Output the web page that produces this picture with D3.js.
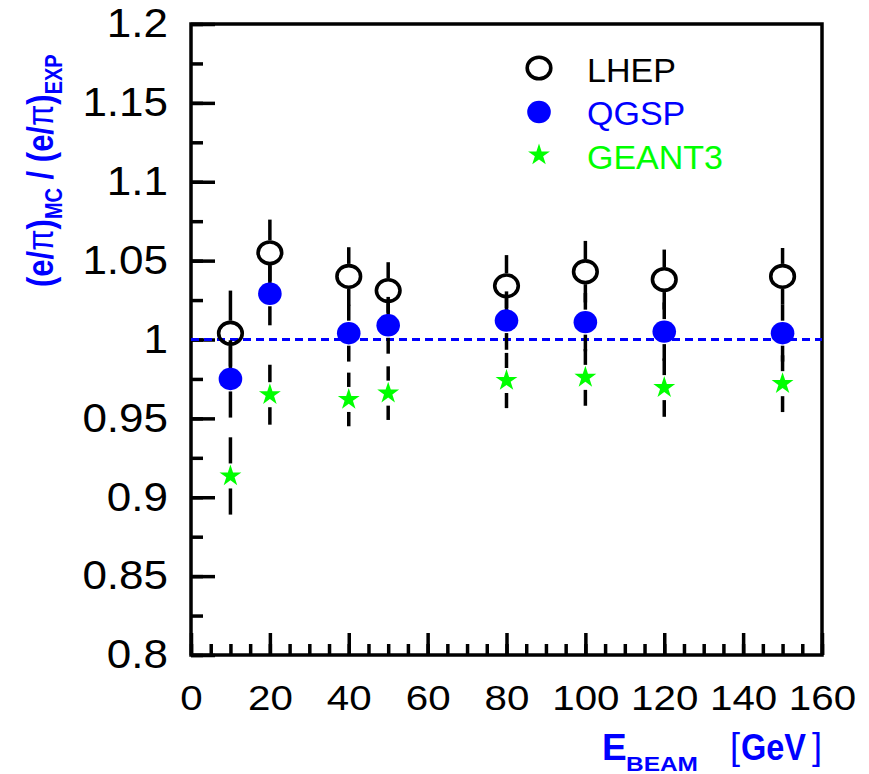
<!DOCTYPE html>
<html>
<head>
<meta charset="utf-8">
<script src="https://cdn.jsdelivr.net/npm/d3@7"></script>
<style>
  html, body { margin: 0; padding: 0; background: #fff; }
  svg { display: block; font-family: "Liberation Sans", Arial, Helvetica, sans-serif; }
</style>
</head>
<body>
<svg id="chart" width="869" height="774"></svg>
<script>
// ---- data ----
const energies = [10, 20, 40, 50, 80, 100, 120, 150];
const lhepValues  = [1.004, 1.055, 1.040, 1.031, 1.034, 1.043, 1.038, 1.040];
const lhepErrors  = [0.027, 0.021, 0.0185, 0.018, 0.0195, 0.0195, 0.019, 0.018];
const qgspValues  = [0.975, 1.029, 1.004, 1.009, 1.012, 1.011, 1.005, 1.004];
const qgspErrors  = [0.0245, 0.020, 0.018, 0.018, 0.0185, 0.0185, 0.0185, 0.018];
const geant3Values = [0.9135, 0.965, 0.962, 0.966, 0.974, 0.976, 0.9695, 0.972];
const geant3Errors = [0.0245, 0.019, 0.017, 0.017, 0.0175, 0.018, 0.0185, 0.018];
const seriesNames = ["LHEP", "QGSP", "GEANT3"];
const xTickLabels = ["0", "20", "40", "60", "80", "100", "120", "140", "160"];
const yTickLabels = ["0.8", "0.85", "0.9", "0.95", "1", "1.05", "1.1", "1.15", "1.2"];
const referenceLine = 1;

// ---- layout ----
const svg = d3.select("#chart");
const plotLeft = 191, plotRight = 822, plotTop = 24, plotBottom = 655;
const x = d3.scaleLinear().domain([0, 160]).range([plotLeft, plotRight]);
const y = d3.scaleLinear().domain([0.8, 1.2]).range([plotBottom, plotTop]);
const BLUE = "#0000ff", GREEN = "#00ff00";
const AXW = 3.5;

// minor x ticks
const gxMinor = svg.append("g").attr("transform", `translate(0,${plotBottom})`)
  .call(d3.axisBottom(x).tickValues(d3.range(0, 161, 5)).tickSize(-11).tickSizeOuter(0).tickFormat(""));
// major x ticks
const gx = svg.append("g").attr("transform", `translate(0,${plotBottom})`)
  .call(d3.axisBottom(x).tickValues(xTickLabels.map(Number)).tickSize(-22).tickSizeOuter(0).tickPadding(29));
// minor y ticks
const gyMinor = svg.append("g").attr("transform", `translate(${plotLeft},0)`)
  .call(d3.axisLeft(y).tickValues(d3.range(0, 17).map(i => 0.8 + i * 0.025)).tickSize(-12).tickSizeOuter(0).tickFormat(""));
// major y ticks
const gy = svg.append("g").attr("transform", `translate(${plotLeft},0)`)
  .call(d3.axisLeft(y).tickValues(yTickLabels.map(Number)).tickSize(-24).tickSizeOuter(0)
    .tickFormat((d, i) => yTickLabels[i]));

[gxMinor, gx, gyMinor, gy].forEach(g => {
  g.select(".domain").remove();
  g.selectAll(".tick line").attr("stroke", "#000").attr("stroke-width", AXW);
});
gx.selectAll(".tick text")
  .attr("font-size", 36).attr("fill", "#000")
  .attr("font-family", "Liberation Sans, Arial, sans-serif")
  .attr("transform", function() { const yy = d3.select(this).attr("y"); return `translate(0,${yy}) scale(1.12,1)`; })
  .attr("y", 0);
gy.selectAll(".tick text")
  .attr("font-size", 40).attr("fill", "#000")
  .attr("font-family", "Liberation Sans, Arial, sans-serif")
  .attr("x", 0)
  .attr("transform", "translate(-23,0) scale(1.1,1)");

// frame
svg.append("rect")
  .attr("x", plotLeft).attr("y", plotTop)
  .attr("width", plotRight - plotLeft).attr("height", plotBottom - plotTop)
  .attr("fill", "none").attr("stroke", "#000").attr("stroke-width", AXW);

// reference line
svg.append("line")
  .attr("x1", plotLeft).attr("x2", plotRight)
  .attr("y1", y(referenceLine)).attr("y2", y(referenceLine))
  .attr("stroke", BLUE).attr("stroke-width", 3.2).attr("stroke-dasharray", "8,5");

// series
const series = [
  { name: seriesNames[0], values: lhepValues, errors: lhepErrors, kind: "open", r: 11.5 },
  { name: seriesNames[1], values: qgspValues, errors: qgspErrors, kind: "dot", r: 11.5 },
  { name: seriesNames[2], values: geant3Values, errors: geant3Errors, kind: "star", r: 11.5 }
];
const starPath = d3.symbol(d3.symbolStar, 11.5 * 11.5 / 0.8908130915292852)();

function drawMarker(g, kind, cx, cy) {
  if (kind === "open") {
    g.append("ellipse").attr("cx", cx).attr("cy", cy).attr("rx", 11.8).attr("ry", 10.8)
      .attr("fill", "none").attr("stroke", "#000").attr("stroke-width", 3.6);
  } else if (kind === "dot") {
    g.append("ellipse").attr("cx", cx).attr("cy", cy).attr("rx", 11.8).attr("ry", 11.2)
      .attr("fill", BLUE);
  } else {
    g.append("path").attr("d", starPath).attr("transform", `translate(${cx},${cy})`)
      .attr("fill", GREEN);
  }
}

series.forEach(s => {
  const g = svg.append("g");
  energies.forEach((e, i) => {
    const cx = x(e), cy = y(s.values[i]);
    const yTop = y(s.values[i] + s.errors[i]);
    const yBot = y(s.values[i] - s.errors[i]);
    const gap = s.r + 1;
    if (cy - yTop > gap) {
      g.append("line").attr("x1", cx).attr("x2", cx).attr("y1", yTop).attr("y2", cy - gap)
        .attr("stroke", "#000").attr("stroke-width", 3.5);
    }
    if (yBot - cy > gap) {
      g.append("line").attr("x1", cx).attr("x2", cx).attr("y1", cy + gap).attr("y2", yBot)
        .attr("stroke", "#000").attr("stroke-width", 3.5);
    }
    drawMarker(g, s.kind, cx, cy);
  });
});

// legend
const legendColors = ["#000", BLUE, GREEN];
const legendY = [68, 112, 155];
const legendBase = [82, 125, 169];
series.forEach((s, i) => {
  drawMarker(svg, s.kind, 539, legendY[i]);
  svg.append("text").attr("x", 587).attr("y", legendBase[i])
    .attr("font-size", 34).attr("fill", legendColors[i]).text(s.name);
});

// x title
const xt = svg.append("g").attr("fill", BLUE).attr("font-weight", "bold");
xt.append("text").attr("x", 602).attr("y", 760).attr("font-size", 37).text("E");
xt.append("text").attr("x", 626).attr("y", 771).attr("font-size", 21)
  .attr("textLength", 72).attr("lengthAdjust", "spacingAndGlyphs").text("BEAM");
xt.append("text").attr("x", 730).attr("y", 759).attr("font-size", 36).attr("font-weight", "normal").text("[");
xt.append("text").attr("x", 741).attr("y", 760).attr("font-size", 36)
  .attr("textLength", 65).attr("lengthAdjust", "spacingAndGlyphs").text("GeV");
xt.append("text").attr("x", 812).attr("y", 759).attr("font-size", 36).attr("font-weight", "normal").text("]");

// y title
const yt = svg.append("text")
  .attr("transform", "translate(53,287) rotate(-90) scale(1,1.22)")
  .attr("fill", BLUE).attr("font-weight", "bold").attr("font-size", 31);
yt.append("tspan").text("(e/");
yt.append("tspan").attr("font-weight", "normal").text("π");
yt.append("tspan").text(")");
yt.append("tspan").attr("font-size", 20).attr("dy", 7).text("MC");
yt.append("tspan").attr("dy", -7).text(" / (e/");
yt.append("tspan").attr("font-weight", "normal").text("π");
yt.append("tspan").text(")");
yt.append("tspan").attr("font-size", 20).attr("dy", 7).text("EXP");
</script>
</body>
</html>
